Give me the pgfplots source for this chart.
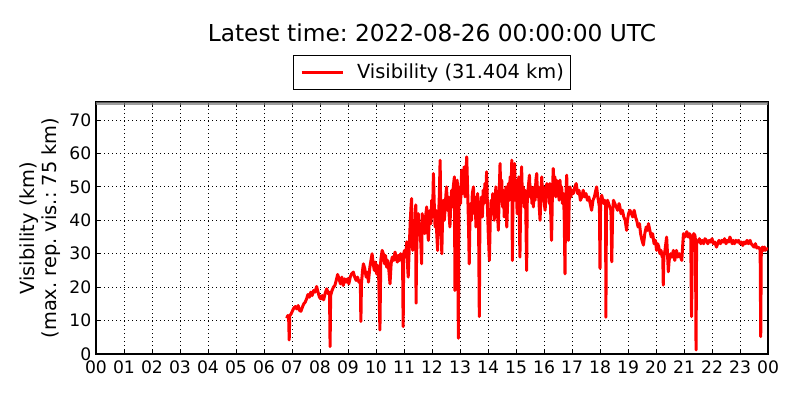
\documentclass[border=0pt]{standalone}
\usepackage{fontspec}
\setmainfont{DejaVu Sans}
\usepackage{pgfplots}
\pgfplotsset{compat=1.18}
\usepackage{pgfplotstable}
\frenchspacing

\pgfplotstableread{
h v
6.81 10.7
6.85 11.5
6.88 11
6.90 4.2
6.92 11.5
6.97 12
7.02 13
7.07 13.8
7.12 14.2
7.17 13.5
7.22 14.5
7.27 13
7.32 12.8
7.37 14
7.42 15
7.47 15.5
7.52 16.5
7.57 17.8
7.62 17
7.67 18.5
7.72 17.5
7.77 19
7.82 18.5
7.88 20.2
7.93 18.5
7.98 17
8.03 16.5
8.08 17.5
8.13 16.2
8.18 18
8.24 19.5
8.30 18
8.34 18.5
8.36 2.2
8.38 17.5
8.43 19
8.48 20
8.53 20.5
8.58 22
8.63 23.8
8.68 22.5
8.73 21
8.78 23
8.83 20.5
8.88 22.5
8.93 21.5
8.98 22.5
9.03 21
9.08 23
9.13 24
9.19 24.5
9.24 23
9.29 22
9.34 23
9.39 21.5
9.44 22
9.46 9.7
9.48 21
9.52 25
9.55 27
9.60 25.5
9.65 23
9.70 24.5
9.73 21.5
9.78 26
9.82 28
9.86 30
9.90 27
9.94 25
9.98 27.5
10.02 24
10.06 26.5
10.10 22
10.14 7.2
10.17 28
10.22 31
10.26 30
10.30 27
10.34 29.5
10.38 26
10.42 28
10.46 25
10.50 21
10.54 27
10.58 29
10.63 28
10.68 30.5
10.72 29
10.76 27.5
10.80 29.5
10.84 28
10.88 30
10.92 29
10.95 27
10.97 8.2
10.99 30
11.02 31
11.06 29
11.10 33.6
11.13 26
11.15 23
11.18 30
11.22 39
11.25 44
11.27 46.5
11.29 38
11.31 31
11.34 38
11.37 35
11.40 40
11.42 44.6
11.43 15.2
11.45 30
11.48 38
11.51 42
11.54 36
11.57 39
11.60 33
11.63 27
11.65 42
11.68 38
11.71 40
11.74 36
11.77 41
11.81 44
11.84 38
11.87 34
11.90 40
11.93 43
11.96 39
11.99 46
12.02 41
12.05 54
12.08 45
12.11 38
12.14 43
12.17 36
12.20 31
12.23 40
12.26 47
12.29 58
12.31 44
12.33 38
12.35 30
12.38 42
12.41 46
12.44 40
12.47 44
12.50 48
12.52 50
12.55 43
12.58 47
12.61 42
12.64 38
12.67 45
12.70 49
12.73 44
12.76 50
12.80 53
12.82 19
12.84 40
12.87 48
12.90 52
12.92 46
12.94 4.7
12.96 44
12.99 50
13.02 45
13.06 55
13.09 48
13.12 52
13.15 56
13.18 47
13.21 53
13.24 59
13.27 50
13.30 40
13.33 27
13.35 38
13.38 45
13.41 40
13.44 48
13.48 50
13.51 42
13.54 47
13.57 38
13.60 44
13.63 48
13.66 42
13.69 11.2
13.71 40
13.74 44
13.77 47
13.80 41
13.83 49
13.86 45
13.89 51
13.92 47
13.95 54.5
13.98 44
14.01 36
14.05 28
14.08 40
14.11 46
14.14 42
14.17 48
14.19 46
14.22 40
14.25 44
14.28 50
14.31 45
14.34 42
14.37 37
14.40 48
14.43 57
14.46 47
14.49 52
14.52 44
14.55 49
14.58 41
14.61 46
14.64 50
14.67 38
14.70 45
14.73 51
14.76 46
14.79 53
14.82 48
14.85 58
14.87 28
14.89 45
14.92 50
14.95 57
14.98 46
15.01 52
15.04 42
15.07 48
15.10 53
15.12 40
15.14 29
15.17 48
15.20 56
15.23 46
15.26 50
15.29 44
15.32 49
15.35 43
15.38 25
15.40 45
15.44 50
15.48 53.5
15.51 47
15.54 50
15.57 45
15.60 48
15.62 44
15.65 50
15.68 46
15.71 52
15.74 54
15.77 47
15.80 50
15.83 44
15.86 40
15.89 48
15.92 53
15.95 46
15.98 50
16.01 45
16.04 43
16.07 48
16.10 51
16.13 47
16.16 50
16.19 45
16.21 51
16.24 42
16.27 34
16.30 48
16.33 55.5
16.36 50
16.39 53
16.42 47
16.45 52
16.48 48
16.51 50
16.54 46
16.57 52
16.60 48
16.63 50
16.66 45
16.69 48
16.72 42
16.75 24
16.77 45
16.81 53.5
16.84 44
16.87 34
16.90 46
16.93 50
16.96 47
17.00 49
17.05 48
17.10 50
17.15 51
17.20 48
17.25 49
17.30 46
17.35 47
17.40 49
17.45 47
17.50 48
17.55 46
17.60 47
17.65 45
17.70 43
17.75 46
17.80 47
17.85 49
17.88 50
17.92 47
17.96 45
17.98 44
18.00 25.6
18.02 45
18.06 47.5
18.10 46
18.14 45
18.17 46
18.20 45
18.21 11
18.23 44
18.27 46
18.31 45
18.35 44
18.39 43
18.42 27.6
18.45 42
18.48 46
18.53 45
18.58 44
18.63 43
18.68 45
18.71 44
18.75 42
18.80 43
18.85 41
18.90 40
18.95 37
18.98 40
19.02 42
19.07 43
19.12 42
19.17 41
19.22 43
19.27 41
19.31 40
19.36 38
19.41 39
19.45 36
19.50 34
19.55 32.6
19.60 36
19.65 38
19.70 37
19.73 39
19.78 37
19.83 35
19.88 36
19.93 33
19.98 34
20.02 31
20.06 33
20.10 32
20.14 30
20.18 31
20.22 29
20.24 30
20.26 20.6
20.28 29
20.32 31
20.38 35
20.41 30
20.44 24.6
20.47 28
20.52 30
20.57 29
20.62 31
20.67 28
20.73 31
20.78 29
20.83 30
20.88 29
20.92 28
20.95 32
20.98 36
21.03 35
21.07 36
21.10 36.6
21.15 35
21.20 36
21.24 35
21.27 11.2
21.30 35
21.35 36
21.39 35.5
21.41 34
21.43 1.2
21.45 34
21.50 33.5
21.55 34.5
21.60 33
21.65 34
21.70 33
21.75 34.5
21.80 34
21.85 33
21.90 34
21.95 33.5
22.00 34.5
22.05 33
22.10 33.5
22.16 32
22.20 33
22.25 34
22.30 33
22.35 34
22.40 33.5
22.45 34.5
22.50 33
22.55 34
22.60 33.5
22.64 35
22.68 34
22.72 33
22.76 34
22.80 33
22.85 34
22.90 33.5
22.95 34
23.00 33
23.05 33.5
23.10 32.5
23.15 33.5
23.20 33
23.25 34
23.30 33
23.36 34
23.40 33
23.45 32.5
23.50 32
23.55 33
23.60 31.7
23.65 32
23.70 31.5
23.72 31
23.74 5.2
23.76 31
23.80 32
23.83 31
23.87 32
23.90 31
23.95 31.5
24.00 31.4
}\vis

\begin{document}
\begin{tikzpicture}[x=1pt,y=1pt]
\path[use as bounding box] (0,0) rectangle (800,400);
\begin{axis}[
  at={(96pt,46pt)}, anchor=south west,
  scale only axis, width=672pt, height=252pt,
  xmin=0, xmax=24, ymin=0, ymax=75.4,
  xtick={0,...,24},
  xticklabels={00,01,02,03,04,05,06,07,08,09,10,11,12,13,14,15,16,17,18,19,20,21,22,23,00},
  ytick={0,10,...,70},
  tick pos=both, tick align=inside,
  major tick length=5pt,
  every tick/.style={black, line width=0.9pt},
  axis line style={black, line width=1.2pt},
  grid=major,
  major grid style={black, line width=0.8pt, dash pattern=on 1pt off 3pt},
  /pgf/number format/assume math mode=true,
  tick label style={font=\fontsize{17.2}{20}\selectfont, inner sep=0pt},
  xticklabel style={anchor=north, yshift=-7pt},
  yticklabel style={anchor=east, xshift=-4.5pt},
  ylabel={Visibility (km)\\(max. rep. vis.: 75 km)},
  ylabel style={font=\fontsize{19.4}{22.5}\selectfont, align=center, at={(axis description cs:-0.047,0.5)}, anchor=south},
  title={Latest time: 2022-08-26 00:00:00 UTC},
  title style={font=\fontsize{23.3}{26}\selectfont, at={(0.5,1.218)}, anchor=base},
  legend style={at={(0.5,1.048)}, anchor=south, draw=black, line width=0.9pt,
    font=\fontsize{19.4}{22}\selectfont, inner xsep=7pt, inner ysep=5pt,
    nodes={inner xsep=0pt, inner ysep=4pt},
    /tikz/every odd column/.append style={column sep=13pt}},
  legend cell align=left,
  legend image code/.code={\draw[#1, line width=3pt] (1pt,0pt) -- (42pt,0pt);},
  clip=true,
]
\addplot[gray, line width=3.5pt, opacity=0.75, forget plot] coordinates {(0,75) (24,75)};
\addplot[red, line width=3pt, line join=round, mark=none] table[x=h, y=v] {\vis};
\addlegendentry{Visibility (31.404 km)}
\end{axis}
\end{tikzpicture}
\end{document}
